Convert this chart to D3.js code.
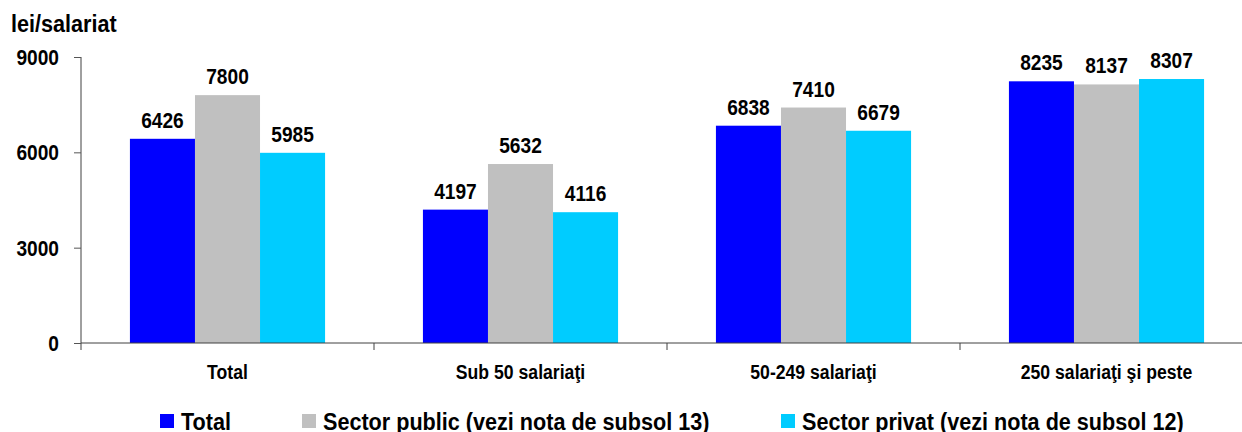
<!DOCTYPE html>
<html>
<head>
<meta charset="utf-8">
<script src="https://cdn.jsdelivr.net/npm/d3@7"></script>
<style>
  body { margin: 0; background: #fff; }
  text { font-family: "Liberation Sans", Arial, sans-serif; font-weight: bold; fill: #000; }
</style>
</head>
<body>
<svg id="chart"></svg>
<script>
// Chart data
const categories = ["Total", "Sub 50 salariaţi", "50-249 salariaţi", "250 salariaţi şi peste"];
const seriesNames = ["Total", "Sector public (vezi nota de subsol 13)", "Sector privat (vezi nota de subsol 12)"];
const totalValues = [6426, 4197, 6838, 8235];
const publicValues = [7800, 5632, 7410, 8137];
const privateValues = [5985, 4116, 6679, 8307];
const yTicks = [0, 3000, 6000, 9000];
const colors = ["#0000ff", "#c0c0c0", "#00ccff"];

const W = 1242, H = 432;
const margin = {top: 57, left: 81, bottom: 89};
const plotRight = 1253; // the axis runs past the picture edge
const narrow = 0.87; // squeeze text sideways, no narrow font installed

const svg = d3.select("#chart").attr("width", W).attr("height", H);

// put a horizontally squeezed text at (x, y)
function narrowText(parent, x, y, txt, size, anchor, sx) {
  return parent.append("g")
      .attr("transform", "translate(" + x + "," + y + ") scale(" + (sx || narrow) + ",1)")
    .append("text")
      .attr("text-anchor", anchor || "start")
      .style("font-size", size + "px")
      .text(txt);
}

const x0 = d3.scaleBand().domain(categories).range([margin.left, plotRight]);
const x1 = d3.scaleBand().domain(seriesNames).range([0, x0.bandwidth() * 0.666]);
const y = d3.scaleLinear().domain([0, 9000]).range([H - margin.bottom, margin.top]);

const rows = categories.map((c, i) => ({
  cat: c,
  vals: [totalValues[i], publicValues[i], privateValues[i]]
}));

// bars
const groups = svg.selectAll(".grp").data(rows).enter().append("g")
    .attr("transform", d => "translate(" + (x0(d.cat) + x0.bandwidth() * 0.167) + ",0)");

groups.selectAll("rect").data(d => d.vals.map((v, j) => ({v: v, s: seriesNames[j], j: j})))
  .enter().append("rect")
    .attr("x", d => x1(d.s))
    .attr("y", d => y(d.v))
    .attr("width", x1.bandwidth())
    .attr("height", d => y(0) - y(d.v))
    .attr("fill", d => colors[d.j]);

groups.each(function(d) {
  const g = d3.select(this);
  d.vals.forEach((v, j) => {
    narrowText(g, x1(seriesNames[j]) + x1.bandwidth() / 2, y(v) - 11, v, 22, "middle");
  });
});

// y axis
const yAxis = svg.append("g")
    .attr("transform", "translate(" + margin.left + ",0)")
    .call(d3.axisLeft(y).tickValues(yTicks).tickSize(7).tickFormat(""));
yAxis.select(".domain").attr("stroke", "#404040").attr("d", "M0," + y(9000) + "V" + (y(0) + 7));
yAxis.selectAll(".tick line").attr("stroke", "#555");
yTicks.forEach(t => narrowText(svg, margin.left - 22, y(t) + 8, d3.format("d")(t), 22, "end"));

// x axis
svg.append("line")
    .attr("x1", margin.left).attr("x2", W)
    .attr("y1", y(0)).attr("y2", y(0))
    .attr("stroke", "#404040");
svg.selectAll(".xtick").data(categories.slice(1)).enter().append("line")
    .attr("x1", d => x0(d)).attr("x2", d => x0(d))
    .attr("y1", y(0)).attr("y2", y(0) + 7)
    .attr("stroke", "#404040");
categories.forEach(c => narrowText(svg, x0(c) + x0.bandwidth() / 2, y(0) + 36, c, 21, "middle", 0.84));

// y title
narrowText(svg, 11, 32, "lei/salariat", 24, "start", 0.9);

// legend
const legendX = [160, 302, 781];
seriesNames.forEach((s, i) => {
  svg.append("rect").attr("x", legendX[i]).attr("y", 414)
      .attr("width", 14).attr("height", 14).attr("fill", colors[i]);
  narrowText(svg, legendX[i] + 21, 430, s, 24, "start", 0.9);
});
</script>
</body>
</html>
